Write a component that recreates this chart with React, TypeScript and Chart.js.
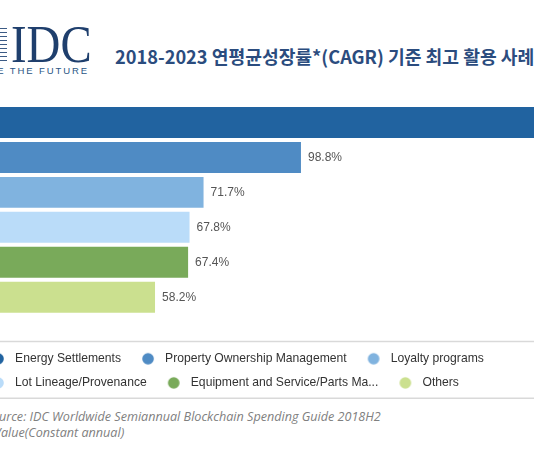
import React, { useEffect, useRef } from "react";
import { Chart, registerables } from "chart.js";

Chart.register(...registerables);

const categories = [
  "Energy Settlements",
  "Property Ownership Management",
  "Loyalty programs",
  "Lot Lineage/Provenance",
  "Equipment and Service/Parts Ma...",
  "Others",
];
const cagrValues = [170, 98.8, 71.7, 67.8, 67.4, 58.2];
const barColors = ["#2163a0", "#4f8bc4", "#80b3df", "#badcf9", "#79aa5a", "#cbe08f"];
const titleText = "2018-2023 연평균성장률*(CAGR) 기준 최고 활용 사례";
const sourceLine1 = "Source: IDC Worldwide Semiannual Blockchain Spending Guide 2018H2";
const sourceLine2 = "Value(Constant annual)";

export default function App() {
  const canvasRef = useRef<HTMLCanvasElement>(null);

  useEffect(() => {
    const makeDot = (color: string) => {
      const c = document.createElement("canvas");
      c.width = 30;
      c.height = 14;
      const g = c.getContext("2d")!;
      g.fillStyle = color;
      g.beginPath();
      g.arc(17, 7, 5.8, 0, Math.PI * 2);
      g.fill();
      return c;
    };
    const dots = barColors.map(makeDot);

    const valueLabels = {
      id: "valueLabels",
      afterDatasetsDraw(chart: any) {
        const ctx = chart.ctx;
        ctx.save();
        ctx.font = "12px 'Liberation Sans', Arial, sans-serif";
        ctx.fillStyle = "#555555";
        ctx.textAlign = "left";
        ctx.textBaseline = "middle";
        chart.data.datasets.forEach((ds: any, i: number) => {
          const meta = chart.getDatasetMeta(i);
          meta.data.forEach((el: any, j: number) => {
            const v = ds.data[j];
            if (v === null || v === undefined) return;
            ctx.fillText(v.toFixed(1) + "%", el.x + 7, el.y + 0.5);
          });
        });
        ctx.restore();
      },
    };

    const legendRules = {
      id: "legendRules",
      afterDraw(chart: any) {
        const lg = chart.legend;
        if (!lg) return;
        const ctx = chart.ctx;
        ctx.save();
        ctx.strokeStyle = "#d9d9d9";
        ctx.lineWidth = 1.5;
        ctx.beginPath();
        ctx.moveTo(0, lg.top + 0.75);
        ctx.lineTo(chart.width, lg.top + 0.75);
        ctx.moveTo(0, lg.bottom - 0.75);
        ctx.lineTo(chart.width, lg.bottom - 0.75);
        ctx.stroke();
        ctx.restore();
      },
    };

    const chart = new Chart(canvasRef.current!, {
      type: "bar",
      data: {
        labels: categories,
        datasets: categories.map((name, i) => ({
          label: name,
          data: cagrValues.map((v, j) => (j === i ? v : null)),
          backgroundColor: barColors[i],
          borderWidth: 0,
          pointStyle: dots[i],
          grouped: false,
          barPercentage: 0.886,
          categoryPercentage: 1,
        })),
      } as any,
      options: {
        indexAxis: "y",
        animation: false,
        responsive: true,
        maintainAspectRatio: false,
        layout: { padding: { top: 5, left: 0, right: 0, bottom: 0 } },
        scales: {
          x: {
            min: 7,
            max: 182,
            display: true,
            grid: { display: false },
            border: { display: false },
            ticks: { display: false },
            afterFit: (s: any) => {
              s.height = 26;
            },
          },
          y: { display: false },
        },
        plugins: {
          legend: {
            position: "bottom",
            align: "start",
            labels: {
              usePointStyle: true,
              pointStyleWidth: 26,
              padding: 12,
              color: "#333333",
              font: { family: "'Liberation Sans', Arial, sans-serif", size: 12.15 },
            },
          },
          tooltip: { enabled: false },
        },
      } as any,
      plugins: [valueLabels, legendRules],
    });
    return () => chart.destroy();
  }, []);

  return (
    <div
      style={{
        position: "absolute",
        left: 0,
        top: 0,
        width: 534,
        height: 451,
        overflow: "hidden",
        background: "#ffffff",
      }}
    >
      <div
        style={{
          position: "absolute",
          left: 0,
          top: 28,
          width: 7,
          height: 36,
          background:
            "repeating-linear-gradient(to bottom, #3c5b85 0px, #3c5b85 1px, transparent 1px, transparent 4px)",
        }}
      />
      <div
        style={{
          position: "absolute",
          left: 11,
          top: 19,
          fontFamily: "'Liberation Serif', serif",
          fontSize: 52,
          lineHeight: 1,
          color: "#1f3f6d",
          transform: "scaleX(0.9)",
          transformOrigin: "left top",
          whiteSpace: "nowrap",
        }}
      >
        IDC
      </div>
      <div
        style={{
          position: "absolute",
          right: 534 - 89,
          top: 66,
          fontFamily: "'Liberation Sans', Arial, sans-serif",
          fontSize: 9.5,
          lineHeight: "10px",
          letterSpacing: 1.9,
          color: "#2a5585",
          whiteSpace: "nowrap",
          textAlign: "right",
        }}
      >
        ANALYZE THE FUTURE
      </div>
      <div
        style={{
          position: "absolute",
          left: 115,
          top: 47,
          fontFamily: "'Noto Sans CJK KR', sans-serif",
          fontWeight: 700,
          fontSize: 18.2,
          lineHeight: 1,
          color: "#2b4c7e",
          whiteSpace: "nowrap",
        }}
      >
        {titleText}
      </div>
      <div
        style={{
          position: "absolute",
          left: -29,
          top: 100,
          width: 629,
          height: 299,
        }}
      >
        <canvas ref={canvasRef} />
      </div>
      <div
        style={{
          position: "absolute",
          left: -14.5,
          top: 409,
          fontFamily: "'Open Sans', sans-serif",
          fontStyle: "italic",
          fontSize: 12.6,
          lineHeight: "16px",
          color: "#808080",
          whiteSpace: "nowrap",
        }}
      >
        {sourceLine1}
      </div>
      <div
        style={{
          position: "absolute",
          left: -6,
          top: 425,
          fontFamily: "'Open Sans', sans-serif",
          fontStyle: "italic",
          fontSize: 12.6,
          lineHeight: "16px",
          color: "#808080",
          whiteSpace: "nowrap",
        }}
      >
        {sourceLine2}
      </div>
    </div>
  );
}
